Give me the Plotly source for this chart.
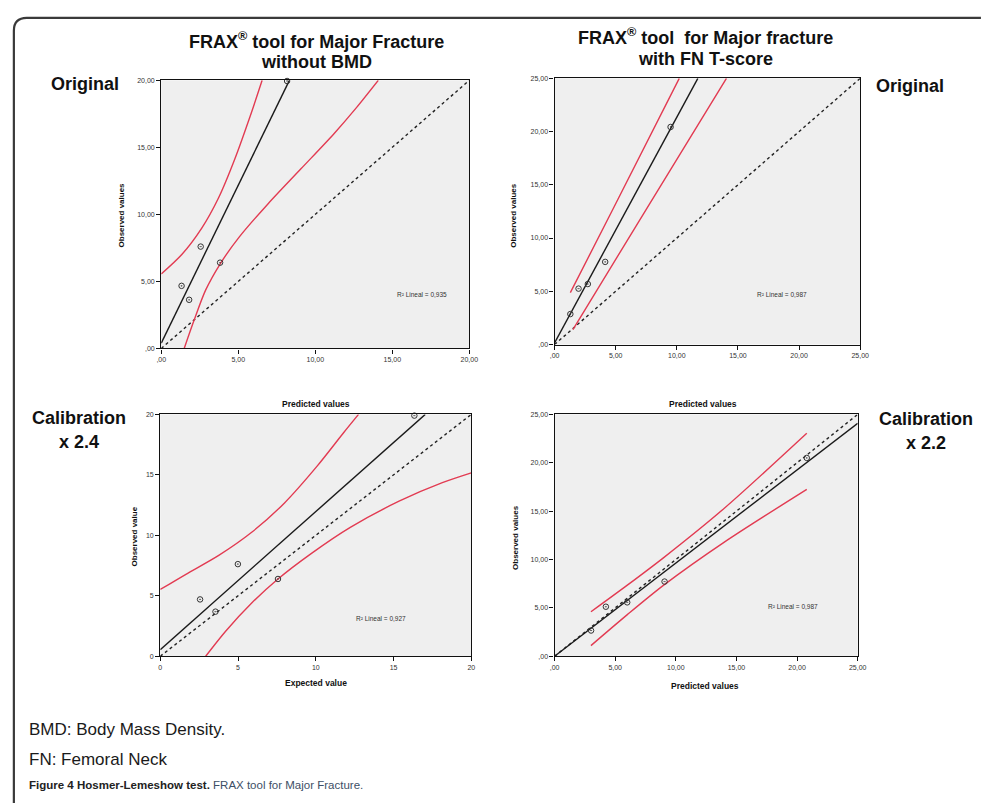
import plotly.graph_objects as go

W, H = 985, 803

# ---------------- data ----------------
# Panel 1: FRAX without BMD, original
p1_x = [1.32, 1.81, 2.56, 3.82, 8.17]
p1_y = [4.67, 3.63, 7.60, 6.40, 19.95]
p1_fit_x = [0.0, 8.32]
p1_fit_y = [0.40, 20.0]
p1_up_x = [0.0, 1.35, 2.63, 3.7, 4.77, 5.84, 6.55]
p1_up_y = [5.56, 7.03, 8.98, 11.19, 14.12, 17.55, 20.0]
p1_lo_x = [1.49, 2.13, 2.88, 3.82, 5.02, 6.94, 9.07, 11.2, 12.7, 14.09]
p1_lo_y = [0.0, 2.1, 4.35, 6.3, 8.25, 10.8, 13.4, 16.0, 18.0, 20.0]
p1_ref = [0, 20]
p1_ticks = [0, 5, 10, 15, 20]
p1_ticktext = [",00", "5,00", "10,00", "15,00", "20,00"]
p1_r2 = "R² Lineal = 0,935"

# Panel 2: FRAX with FN T-score, original
p2_x = [1.29, 1.96, 2.72, 4.14, 9.49]
p2_y = [2.86, 5.25, 5.68, 7.76, 20.43]
p2_fit_x = [0.0, 11.72]
p2_fit_y = [0.15, 25.0]
p2_up_x = [1.29, 4.78, 10.2]
p2_up_y = [4.87, 12.73, 25.0]
p2_lo_x = [1.5, 7.5, 14.06]
p2_lo_y = [1.4, 12.7, 25.0]
p2_ref = [0, 25]
p2_ticks = [0, 5, 10, 15, 20, 25]
p2_ticktext = [",00", "5,00", "10,00", "15,00", "20,00", "25,00"]
p2_r2 = "R² Lineal = 0,987"

# Panel 3: calibration x 2.4
p3_x = [2.56, 3.55, 4.99, 7.57, 16.34]
p3_y = [4.70, 3.69, 7.62, 6.39, 19.9]
p3_fit_x = [0.0, 17.04]
p3_fit_y = [0.55, 20.0]
p3_up_x = [0.0, 1.65, 3.76, 5.88, 7.99, 10.1, 11.8, 12.75]
p3_up_y = [5.52, 6.78, 8.34, 10.25, 12.68, 15.74, 18.5, 20.0]
p3_lo_x = [2.92, 4.19, 5.88, 7.57, 9.68, 12.22, 15.39, 18.14, 20.0]
p3_lo_y = [0.0, 2.05, 4.4, 6.39, 8.47, 10.66, 12.84, 14.35, 15.16]
p3_ref = [0, 20]
p3_ticks = [0, 5, 10, 15, 20]
p3_ticktext = ["0", "5", "10", "15", "20"]
p3_r2 = "R² Lineal = 0,927"

# Panel 4: calibration x 2.2
p4_x = [3.01, 4.23, 5.99, 9.07, 20.8]
p4_y = [2.66, 5.12, 5.57, 7.72, 20.5]
p4_fit_x = [0.0, 25.0]
p4_fit_y = [0.0, 24.08]
p4_up_x = [3.0, 6.0, 9.0, 14.0, 20.8]
p4_up_y = [4.6, 7.35, 10.2, 15.3, 23.05]
p4_lo_x = [3.0, 6.0, 9.0, 14.0, 20.8]
p4_lo_y = [1.1, 4.3, 7.35, 11.8, 17.25]
p4_ref = [0, 25]
p4_ticks = [0, 5, 10, 15, 20, 25]
p4_ticktext = [",00", "5,00", "10,00", "15,00", "20,00", "25,00"]
p4_r2 = "R² Lineal = 0,987"

# ---------------- helpers ----------------
def px(x):
    return x / W

def py(y):
    return 1 - y / H

RED = "#e23b52"
PLOTBG = "#efefef"

panels = [
    dict(n="", box=(158.5, 77, 471, 347.5), rng=20, x=p1_x, y=p1_y, fx=p1_fit_x, fy=p1_fit_y,
         ux=p1_up_x, uy=p1_up_y, lx=p1_lo_x, ly=p1_lo_y, ref=p1_ref, tv=p1_ticks, tt=p1_ticktext,
         r2=p1_r2, r2pos=(423, 293)),
    dict(n="2", box=(557.5, 75, 867.5, 343.5), rng=25, x=p2_x, y=p2_y, fx=p2_fit_x, fy=p2_fit_y,
         ux=p2_up_x, uy=p2_up_y, lx=p2_lo_x, ly=p2_lo_y, ref=p2_ref, tv=p2_ticks, tt=p2_ticktext,
         r2=p2_r2, r2pos=(816, 293)),
    dict(n="3", box=(157.5, 414, 473, 658), rng=20, x=p3_x, y=p3_y, fx=p3_fit_x, fy=p3_fit_y,
         ux=p3_up_x, uy=p3_up_y, lx=p3_lo_x, ly=p3_lo_y, ref=p3_ref, tv=p3_ticks, tt=p3_ticktext,
         r2=p3_r2, r2pos=(381, 625)),
    dict(n="4", box=(557.5, 414, 865, 658), rng=25, x=p4_x, y=p4_y, fx=p4_fit_x, fy=p4_fit_y,
         ux=p4_up_x, uy=p4_up_y, lx=p4_lo_x, ly=p4_lo_y, ref=p4_ref, tv=p4_ticks, tt=p4_ticktext,
         r2=p4_r2, r2pos=(827, 613)),
]

fig = go.Figure()
layout_axes = {}
annotations = []

for p in panels:
    n = p["n"]
    xa, ya = "x" + n, "y" + n
    fig.add_trace(go.Scatter(x=p["ref"], y=p["ref"], mode="lines", xaxis=xa, yaxis=ya,
                             line=dict(color="#222", width=1.4, dash="dot"), hoverinfo="skip"))
    fig.add_trace(go.Scatter(x=p["ux"], y=p["uy"], mode="lines", xaxis=xa, yaxis=ya,
                             line=dict(color=RED, width=1.4, shape="spline", smoothing=0.8)))
    fig.add_trace(go.Scatter(x=p["lx"], y=p["ly"], mode="lines", xaxis=xa, yaxis=ya,
                             line=dict(color=RED, width=1.4, shape="spline", smoothing=0.8)))
    fig.add_trace(go.Scatter(x=p["fx"], y=p["fy"], mode="lines", xaxis=xa, yaxis=ya,
                             line=dict(color="#1a1a1a", width=1.4)))
    fig.add_trace(go.Scatter(x=p["x"], y=p["y"], mode="markers", xaxis=xa, yaxis=ya,
                             cliponaxis=False,
                             marker=dict(symbol="circle-open-dot", size=5.5, color="#333",
                                         line=dict(width=1, color="#333"))))
    x0, y0, x1, y1 = p["box"]
    common = dict(range=[0, p["rng"]], tickvals=p["tv"], ticktext=p["tt"], showgrid=False,
                  zeroline=False, showline=True, linecolor="#111", linewidth=1.2, mirror=True,
                  ticks="outside", ticklen=4, tickcolor="#111", tickwidth=1,
                  tickfont=dict(family="Liberation Sans, Arial", size=7, color="#333"),
                  fixedrange=True)
    layout_axes["xaxis" + n] = dict(common, domain=[px(x0), px(x1)], anchor=ya)
    layout_axes["yaxis" + n] = dict(common, domain=[py(y1), py(y0)], anchor=xa)
    annotations.append(dict(text=p["r2"], x=px(p["r2pos"][0]), y=py(p["r2pos"][1]),
                            xref="paper", yref="paper", showarrow=False,
                            font=dict(family="Liberation Sans, Arial", size=6.5, color="#333")))

FONT = "Liberation Sans, Arial"
def ann(text, x, y, size, bold=True, angle=0, color="#111", xanchor="center"):
    t = f"<b>{text}</b>" if bold else text
    annotations.append(dict(text=t, x=px(x), y=py(y), xref="paper", yref="paper",
                            showarrow=False, textangle=angle, xanchor=xanchor, yanchor="middle",
                            font=dict(family=FONT, size=size, color=color)))

# panel titles
ann("FRAX<sup>®</sup> tool for Major Fracture", 316, 37, 18)
ann("without BMD", 316, 59, 18)
ann("FRAX<sup>®</sup> tool  for Major fracture", 711, 33, 18)
ann("with FN T-score", 711, 55, 18)
# side labels
ann("Original", 81, 81, 18)
ann("Original", 918, 83, 18)
ann("Calibration", 75, 418, 18)
ann("x 2.4", 75, 442, 18)
ann("Calibration", 934, 419, 18)
ann("x 2.2", 934, 443, 18)
# axis titles
ann("Observed values", 118, 213, 8, angle=-90)
ann("Observed values", 515, 213, 8, angle=-90)
ann("Observed value", 131, 537, 8, angle=-90)
ann("Observed values", 518, 538, 8, angle=-90)
ann("Predicted values", 315, 404, 8.5)
ann("Predicted values", 708, 404, 8.5)
ann("Expected value", 315, 685, 8.5)
ann("Predicted values", 710, 688, 8.5)
# footnotes
ann("BMD: Body Mass Density.", 22, 732, 17, bold=False, xanchor="left", color="#1a1a1a")
ann("FN: Femoral Neck", 22, 762, 17, bold=False, xanchor="left", color="#1a1a1a")
ann("<b>Figure 4 Hosmer-Lemeshow test.</b> <span style='color:#3d4f66'>FRAX tool for Major Fracture.</span>",
    22, 788, 11.5, bold=False, xanchor="left", color="#222")

# outer frame (rounded corner at top-left)
frame = (f"M {px(W + 5)},{py(14)} L {px(22)},{py(14)} "
         f"Q {px(9)},{py(14)} {px(9)},{py(27)} L {px(9)},{py(H + 5)}")

fig.update_layout(
    width=W, height=H, showlegend=False,
    margin=dict(l=0, r=0, t=0, b=0),
    paper_bgcolor="white", plot_bgcolor=PLOTBG,
    annotations=annotations,
    shapes=[dict(type="path", path=frame, xref="paper", yref="paper",
                 line=dict(color="#3a3a3a", width=2.2))],
    **layout_axes,
)

fig.write_html("out.html", config={"displayModeBar": False},
               post_script="document.body.style.margin='0px';document.body.style.overflow='hidden';")
